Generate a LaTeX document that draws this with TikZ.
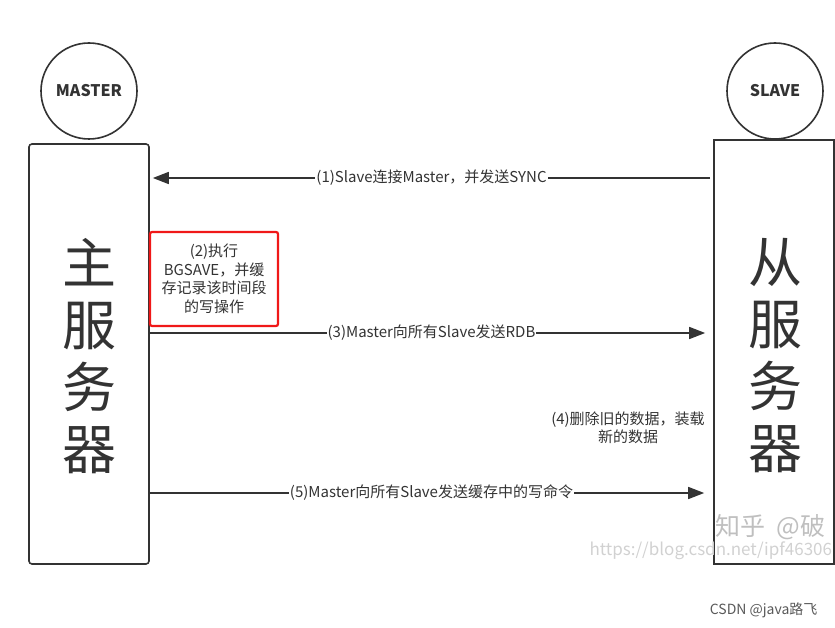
\documentclass[tikz,border=0pt]{standalone}
\usepackage{fontspec}
\setmainfont{Noto Sans CJK SC}
\usetikzlibrary{arrows.meta,positioning}
\definecolor{ink}{HTML}{333333}
\definecolor{mark}{HTML}{F01818}

\begin{document}
\begin{tikzpicture}[x=1pt,y=-1pt,
		role/.style={circle,draw=ink,line width=1.6pt,minimum size=96pt,inner sep=0pt,text=ink,font=\fontsize{16}{18}\selectfont\bfseries},
		server/.style={draw=ink,line width=1.6pt,minimum width=120pt,inner sep=0pt},
		big/.style={align=center,text=ink,font=\fontsize{54}{62}\selectfont},
		msg/.style={draw=ink,line width=1.5pt,-{Triangle[length=16pt,width=12pt]}},
		say/.style={fill=white,inner sep=1pt,text=ink,font=\fontsize{15}{18}\selectfont},
		note/.style={align=center,text=ink,font=\fontsize{15}{18.5}\selectfont}]
	\useasboundingbox (0,0) rectangle (835,628);
	\clip (0,0) rectangle (835,628);
	\node[role] (master) at (89,91) {MASTER};
	\node[role] (slave) at (775,91) {SLAVE};
	\node[server,rounded corners=3pt,minimum height=420pt] (mbox) at (89,354) {};
	\node[server,minimum height=424pt] (sbox) at (774,352) {};
	\node[big] (mtext) at (89,356) {主\\服\\务\\器};
	\node[big] (stext) at (775,356) {从\\服\\务\\器};
	\node[note,draw=mark,line width=2.2pt,rounded corners=2pt,minimum width=128pt,minimum height=94pt,text width=120pt] (save) at (214,279) {(2)执行\\BGSAVE，并缓\\存记录该时间段\\的写操作};
	\node[note] (load) at (628,428) {(4)删除旧的数据，装载\\新的数据};
	\coordinate (r1) at (0,178);
	\coordinate (r3) at (0,333);
	\coordinate (r5) at (0,493);
	\draw[msg,shorten <=3pt,shorten >=3pt] (sbox.west |- r1) -- (mbox.east |- r1) node[say,pos=.5] {(1)Slave连接Master，并发送SYNC};
	\draw[msg,shorten >=8pt] (mbox.east |- r3) -- (sbox.west |- r3) node[say,pos=.5] {(3)Master向所有Slave发送RDB};
	\draw[msg,shorten >=9pt] (mbox.east |- r5) -- (sbox.west |- r5) node[say,pos=.5] {(5)Master向所有Slave发送缓存中的写命令};
	\node[anchor=west,text=black!25,font=\fontsize{25}{25}\selectfont] (zhihu) at (712,527) {知乎\ \ @破};
	\node[anchor=west,text=black!18,font=\fontsize{17}{17}\selectfont] (url) at (586,551) {https://blog.csdn.net/ipf46306};
	\node[anchor=east,text=black!65,font=\fontsize{14}{16}\selectfont] (csdn) at (821,610) {CSDN @java路飞};
\end{tikzpicture}
\end{document}
